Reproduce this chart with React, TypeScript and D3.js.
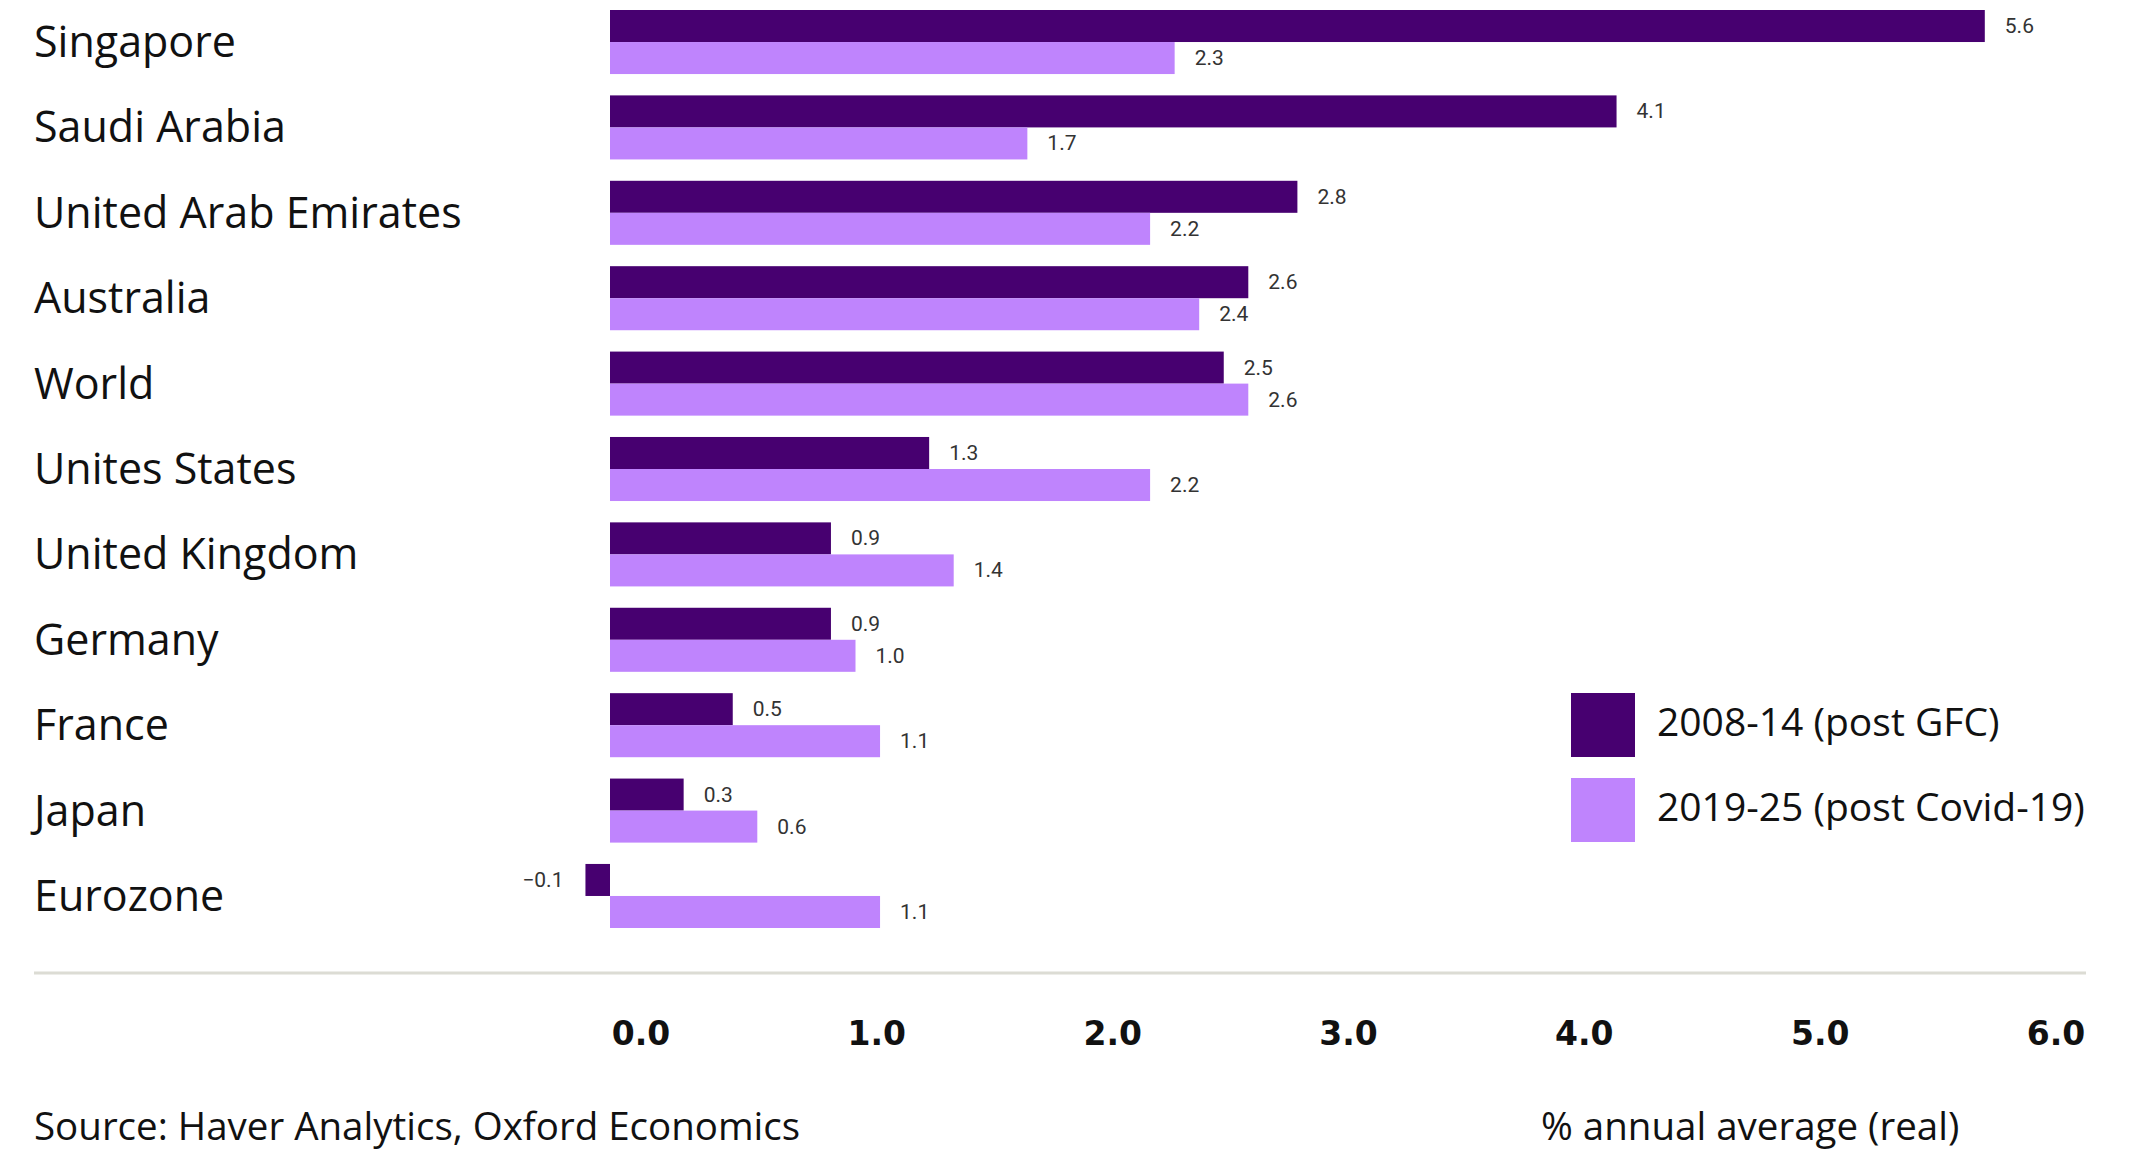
import React from "react";
import * as d3 from "d3";

const countries = [
  "Singapore",
  "Saudi Arabia",
  "United Arab Emirates",
  "Australia",
  "World",
  "Unites States",
  "United Kingdom",
  "Germany",
  "France",
  "Japan",
  "Eurozone",
];
const postGFC = [5.6, 4.1, 2.8, 2.6, 2.5, 1.3, 0.9, 0.9, 0.5, 0.3, -0.1];
const postCovid = [2.3, 1.7, 2.2, 2.4, 2.6, 2.2, 1.4, 1.0, 1.1, 0.6, 1.1];
const seriesNames = ["2008-14 (post GFC)", "2019-25 (post Covid-19)"];
const tickValues = [0, 1, 2, 3, 4, 5, 6];
const sourceText = "Source: Haver Analytics, Oxford Economics";
const unitText = "% annual average (real)";

const W = 2142;
const H = 1152;
const DARK = "#470070";
const LIGHT = "#bf84fd";
const FONT = "'Open Sans', Roboto, sans-serif";

export default function App() {
  const x = d3.scaleLinear().domain([0, 1]).range([610, 855.5]);
  const y = d3.scaleBand<string>().domain(countries).range([10, 928]).paddingInner(0.25).paddingOuter(0);
  const sub = d3.scaleBand<number>().domain([0, 1]).range([0, y.bandwidth()]).padding(0);
  const tickX = d3.scaleLinear().domain([0, 6]).range([641, 2056]);
  const fmt = d3.format(".1f");

  const series = [postGFC, postCovid];
  const colors = [DARK, LIGHT];

  return (
    <svg
      width={W}
      height={H}
      style={{ position: "absolute", left: 0, top: 0, background: "#fff" }}
      fontFamily={FONT}
    >
      {countries.map((c, i) => {
        const y0 = y(c)!;
        return (
          <g key={c}>
            <text x={34} y={y0 + y.bandwidth() / 2 + 15} fontSize={43} fill="#111">
              {c}
            </text>
            {series.map((s, k) => {
              const v = s[i];
              const x0 = x(Math.min(0, v));
              const x1 = x(Math.max(0, v));
              const by = y0 + sub(k)!;
              const bh = sub.bandwidth();
              return (
                <g key={k}>
                  <rect x={x0} y={by} width={x1 - x0} height={bh} fill={colors[k]} />
                  <text
                    x={v >= 0 ? x1 + 20 : x0 - 22}
                    y={by + bh / 2 + 7}
                    fontSize={21}
                    fontFamily="Roboto, sans-serif"
                    fill="#333"
                    textAnchor={v >= 0 ? "start" : "end"}
                  >
                    {fmt(v)}
                  </text>
                </g>
              );
            })}
          </g>
        );
      })}

      <line x1={34} x2={2086} y1={973} y2={973} stroke="#dcdcd4" strokeWidth={3} />

      {tickValues.map((t) => (
        <text
          key={t}
          x={tickX(t)}
          y={1045}
          textAnchor="middle"
          fontSize={33}
          fontWeight="bold"
          fontFamily="'DejaVu Sans', sans-serif"
          fill="#111"
        >
          {fmt(t)}
        </text>
      ))}

      {seriesNames.map((n, k) => (
        <g key={n}>
          <rect x={1571} y={693 + k * 85} width={64} height={64} fill={colors[k]} />
          <text x={1657} y={736 + k * 85} fontSize={39} fill="#111">
            {n}
          </text>
        </g>
      ))}

      <text x={34} y={1140} fontSize={38.5} fill="#111">
        {sourceText}
      </text>
      <text x={1541} y={1140} fontSize={38.5} fill="#111">
        {unitText}
      </text>
    </svg>
  );
}
